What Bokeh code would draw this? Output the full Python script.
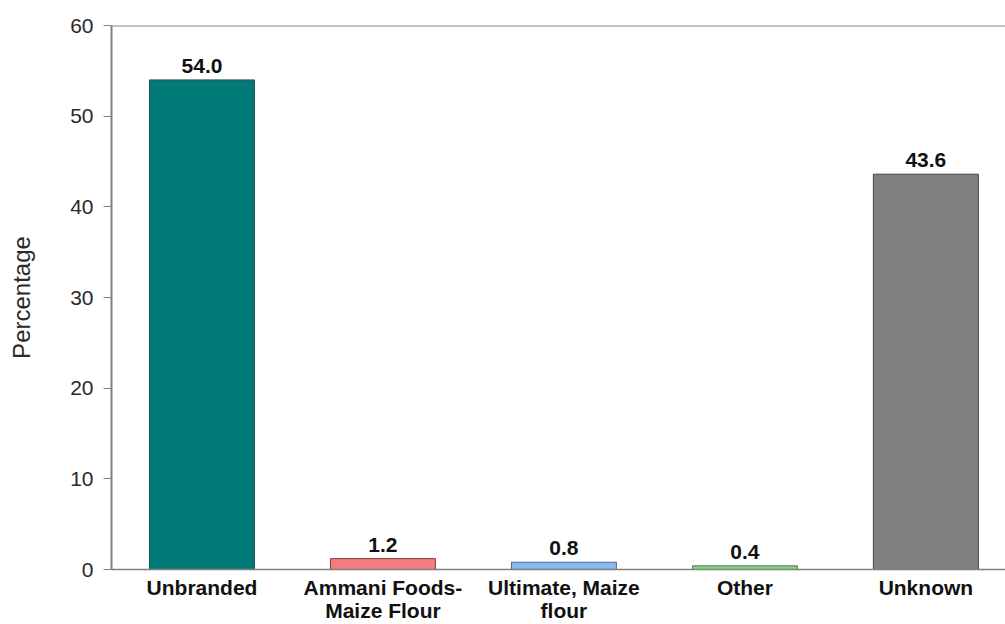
from bokeh.plotting import figure
from bokeh.models import Range1d, FixedTicker, ColumnDataSource, Span, LabelSet
from bokeh.core.properties import value
from bokeh.embed import file_html
from bokeh.resources import INLINE

# Brand shares of maize flour purchases (%)
categories = ["Unbranded", "Ammani Foods-\nMaize Flour", "Ultimate, Maize\nflour", "Other", "Unknown"]
percentages = [54.0, 1.2, 0.8, 0.4, 43.6]
colors = ["#007B77", "#F47C7C", "#8AB6F2", "#85D47F", "#808080"]
edge_colors = ["#2F4F4F", "#8B3A3A", "#4A6A90", "#4C7A48", "#404040"]
y_ticks = [0, 10, 20, 30, 40, 50, 60]

FONT = "Liberation Sans"

xs = [i + 0.5 for i in range(len(categories))]
labels = [f"{v:.1f}" for v in percentages]

src = ColumnDataSource(dict(x=xs, top=percentages, color=colors, edge=edge_colors, label=labels))

p = figure(width=1005, height=624, output_backend="svg", toolbar_location=None,
           x_range=Range1d(0, 4.94), y_range=Range1d(0, 60),
           min_border_left=111, min_border_right=0, min_border_top=25, min_border_bottom=54)

p.vbar(x="x", top="top", bottom=0, width=0.58, fill_color="color", line_color="edge",
       line_width=1, source=src)

p.add_layout(LabelSet(x="x", y="top", text="label", source=src, text_align="center",
                      text_baseline="alphabetic", y_offset=7, text_font=value(FONT),
                      text_font_size="21px", text_font_style="bold", text_color="#111111"))

# top border of the frame
p.add_layout(Span(location=60, dimension="width", line_color="#8a8a8a", line_width=2))

p.grid.visible = False
p.outline_line_color = None
p.background_fill_color = "white"
p.border_fill_color = "white"

xa = p.xaxis[0]
xa.ticker = FixedTicker(ticks=xs)
xa.major_label_overrides = {x: c for x, c in zip(xs, categories)}
xa.major_tick_line_color = None
xa.major_tick_out = 0
xa.major_tick_in = 0
xa.minor_tick_line_color = None
xa.axis_line_color = "#808080"
xa.axis_line_width = 1.5
xa.major_label_text_font = FONT
xa.major_label_text_font_size = "21px"
xa.major_label_text_font_style = "bold"
xa.major_label_text_color = "#111111"
xa.major_label_text_line_height = 1.0
xa.major_label_standoff = 6

ya = p.yaxis[0]
ya.ticker = FixedTicker(ticks=y_ticks)
ya.minor_tick_line_color = None
ya.major_tick_in = 0
ya.major_tick_out = 8
ya.major_tick_line_color = "#808080"
ya.axis_line_color = "#808080"
ya.axis_line_width = 2
ya.major_label_text_font = FONT
ya.major_label_text_font_size = "21px"
ya.major_label_text_color = "#2a2a2a"
ya.major_label_standoff = 10
ya.axis_label = "Percentage"
ya.axis_label_text_font = FONT
ya.axis_label_text_font_size = "24px"
ya.axis_label_text_font_style = "normal"
ya.axis_label_text_color = "#2a2a2a"
ya.axis_label_standoff = 32

open("out.html", "w").write(file_html(p, INLINE))
